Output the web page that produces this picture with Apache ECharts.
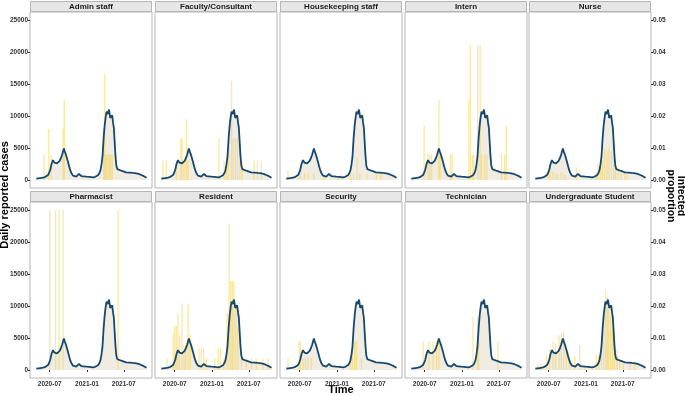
<!DOCTYPE html>
<html>
<head>
<meta charset="utf-8">
<script src="https://cdn.jsdelivr.net/npm/echarts@6/dist/echarts.min.js"></script>
<style>
html, body { margin: 0; padding: 0; background: #fff; }
#chart { width: 685px; height: 396px; }
</style>
</head>
<body>
<div id="chart"></div>
<script>
// 面板名称
const groups = ['Admin staff', 'Faculty/Consultant', 'Housekeeping staff', 'Intern', 'Nurse',
    'Pharmacist', 'Resident', 'Security', 'Technician', 'Undergraduate Student'];

// 每日报告病例（所有面板共用）
const caseDates = ['2020-04-26', '2020-05-06', '2020-05-16', '2020-05-29', '2020-06-10', '2020-06-23', '2020-06-28',
    '2020-07-04', '2020-07-10', '2020-07-17', '2020-07-21', '2020-07-25', '2020-08-01', '2020-08-06', '2020-08-12',
    '2020-08-19', '2020-08-25', '2020-08-31', '2020-09-05', '2020-09-09', '2020-09-13', '2020-09-18', '2020-09-23',
    '2020-09-29', '2020-10-05', '2020-10-11', '2020-10-17', '2020-10-24', '2020-11-01', '2020-11-09', '2020-11-16',
    '2020-11-22', '2020-11-28', '2020-12-04', '2020-12-14', '2020-12-29', '2021-01-12', '2021-01-31', '2021-02-10',
    '2021-02-16', '2021-02-24', '2021-03-03', '2021-03-08', '2021-03-13', '2021-03-18', '2021-03-24', '2021-03-29',
    '2021-04-03', '2021-04-07', '2021-04-10', '2021-04-13', '2021-04-16', '2021-04-19', '2021-04-22', '2021-04-25',
    '2021-04-29', '2021-05-02', '2021-05-05', '2021-05-09', '2021-05-13', '2021-05-17', '2021-05-21', '2021-05-25',
    '2021-05-30', '2021-06-08', '2021-06-19', '2021-06-27', '2021-07-12', '2021-07-30', '2021-08-15', '2021-09-01',
    '2021-09-12', '2021-09-25', '2021-10-08', '2021-10-21'];
const caseValues = [200, 250, 300, 360, 500, 780, 1100,
    1650, 2500, 3100, 2800, 2700, 2550, 2600, 2750,
    3000, 3400, 3900, 4500, 4900, 4500, 4050, 3500,
    2850, 2100, 1450, 1000, 680, 560, 520, 750,
    940, 780, 620, 580, 520, 480, 420, 500,
    620, 750, 1100, 1500, 2400, 3600, 6700, 8600,
    9900, 10700, 10900, 10300, 10600, 11000, 10400, 9700,
    10000, 9500, 10100, 9000, 8200, 6000, 3800, 2300,
    1700, 1500, 1450, 1300, 1200, 1150, 1100, 1050,
    950, 780, 600, 360];

// 各职业感染比例 [日期, 比例]
const propAdmin = [['2020-06-03', 0.008], ['2020-06-26', 0.016], ['2020-07-09', 0.008], ['2020-09-05', 0.016],
    ['2020-09-11', 0.025], ['2021-03-24', 0.016], ['2021-03-29', 0.033], ['2021-04-03', 0.008], ['2021-04-08', 0.008],
    ['2021-04-15', 0.008], ['2021-04-22', 0.008], ['2021-04-28', 0.008], ['2021-05-05', 0.008]];
const propFaculty = [['2020-05-04', 0.006], ['2020-05-21', 0.006], ['2020-07-09', 0.006], ['2020-07-31', 0.013],
    ['2020-08-06', 0.013], ['2020-08-16', 0.006], ['2020-08-28', 0.019], ['2020-09-05', 0.006], ['2021-02-04', 0.013],
    ['2021-03-01', 0.006], ['2021-03-13', 0.006], ['2021-03-24', 0.013], ['2021-04-07', 0.031], ['2021-04-15', 0.013],
    ['2021-04-26', 0.013], ['2021-05-06', 0.013], ['2021-05-18', 0.006], ['2021-05-29', 0.006], ['2021-07-27', 0.006],
    ['2021-08-13', 0.006], ['2021-09-01', 0.006]];
const propHousekeeping = [['2020-05-04', 0.003], ['2020-06-28', 0.002], ['2020-07-09', 0.003], ['2020-07-25', 0.002],
    ['2020-08-11', 0.002], ['2020-09-09', 0.002], ['2020-11-01', 0.0016], ['2021-01-06', 0.001], ['2021-01-22', 0.002],
    ['2021-03-08', 0.002], ['2021-03-24', 0.002], ['2021-04-10', 0.007], ['2021-04-23', 0.002], ['2021-05-29', 0.002],
    ['2021-07-14', 0.002], ['2021-08-04', 0.002]];
const propIntern = [['2020-06-28', 0.017], ['2020-07-17', 0.008], ['2020-07-26', 0.008], ['2020-08-04', 0.008],
    ['2020-09-09', 0.025], ['2020-09-16', 0.008], ['2020-11-05', 0.008], ['2020-11-13', 0.008], ['2021-02-04', 0.025],
    ['2021-02-11', 0.042], ['2021-02-21', 0.008], ['2021-02-28', 0.008], ['2021-03-19', 0.042], ['2021-03-31', 0.042],
    ['2021-04-07', 0.008], ['2021-04-23', 0.008], ['2021-05-04', 0.008], ['2021-07-14', 0.008], ['2021-07-30', 0.008],
    ['2021-08-07', 0.017]];
const propNurse = [['2020-06-28', 0.0023], ['2020-07-09', 0.003], ['2020-07-22', 0.0025], ['2020-08-04', 0.002],
    ['2020-08-16', 0.002], ['2020-09-01', 0.0025], ['2020-09-14', 0.002], ['2020-09-23', 0.0015], ['2020-11-14', 0.004],
    ['2021-02-21', 0.002], ['2021-03-01', 0.005], ['2021-03-13', 0.004], ['2021-03-23', 0.006], ['2021-04-03', 0.0099],
    ['2021-04-15', 0.009], ['2021-04-24', 0.0099], ['2021-05-06', 0.009], ['2021-05-18', 0.0068], ['2021-05-27', 0.0045],
    ['2021-06-08', 0.003], ['2021-06-24', 0.002], ['2021-07-11', 0.002], ['2021-07-22', 0.0015]];
const propPharmacist = [['2020-07-01', 0.05], ['2020-07-30', 0.05], ['2020-08-16', 0.05], ['2020-09-05', 0.05],
    ['2021-06-03', 0.05]];
const propResident = [['2020-05-24', 0.0036], ['2020-06-23', 0.0109], ['2020-07-01', 0.0137], ['2020-07-09', 0.0137],
    ['2020-07-17', 0.0177], ['2020-07-25', 0.0109], ['2020-08-06', 0.0208], ['2020-08-16', 0.0078], ['2020-08-24', 0.0078],
    ['2020-09-05', 0.0208], ['2020-09-16', 0.0109], ['2020-10-29', 0.0068], ['2020-11-09', 0.0068], ['2020-11-21', 0.0068],
    ['2020-12-04', 0.0036], ['2021-01-14', 0.0036], ['2021-01-31', 0.0068], ['2021-02-11', 0.0068], ['2021-02-28', 0.0036],
    ['2021-03-16', 0.0177], ['2021-03-26', 0.0458], ['2021-04-03', 0.0278], ['2021-04-11', 0.0278], ['2021-04-19', 0.0278],
    ['2021-04-28', 0.0208], ['2021-05-09', 0.0137], ['2021-05-26', 0.0036], ['2021-06-19', 0.0036], ['2021-07-14', 0.0036],
    ['2021-08-07', 0.0036], ['2021-09-09', 0.0036], ['2021-10-04', 0.0036]];
const propSecurity = [['2020-05-04', 0.0037], ['2020-06-28', 0.0089], ['2020-07-04', 0.0089], ['2020-07-17', 0.0034],
    ['2020-07-30', 0.0037], ['2020-08-11', 0.004], ['2020-08-28', 0.0037], ['2021-03-08', 0.0037], ['2021-03-18', 0.0089],
    ['2021-03-29', 0.0089], ['2021-04-07', 0.0089], ['2021-05-01', 0.0037]];
const propTechnician = [['2020-06-23', 0.0089], ['2020-07-22', 0.0089], ['2020-08-11', 0.0089], ['2020-08-28', 0.0089],
    ['2020-09-09', 0.0089], ['2021-02-24', 0.0167], ['2021-03-18', 0.0167], ['2021-03-24', 0.0089], ['2021-06-27', 0.0089]];
const propUndergrad = [['2020-05-09', 0.0019], ['2020-05-21', 0.0019], ['2020-06-20', 0.0047], ['2020-07-06', 0.0063],
    ['2020-07-22', 0.0088], ['2020-08-04', 0.0083], ['2020-08-21', 0.0109], ['2020-09-01', 0.0115], ['2020-09-13', 0.012],
    ['2020-09-26', 0.0063], ['2020-10-12', 0.0042], ['2020-11-06', 0.0042], ['2020-12-01', 0.0078], ['2020-12-25', 0.0015],
    ['2021-02-21', 0.0044], ['2021-03-06', 0.005], ['2021-03-18', 0.0104], ['2021-03-29', 0.0167], ['2021-04-08', 0.025],
    ['2021-04-15', 0.023], ['2021-04-21', 0.019], ['2021-05-01', 0.0167], ['2021-05-11', 0.0125], ['2021-05-21', 0.0094],
    ['2021-06-03', 0.0063], ['2021-06-16', 0.0036], ['2021-07-02', 0.002], ['2021-08-04', 0.002], ['2021-08-28', 0.002]];
const propAll = [propAdmin, propFaculty, propHousekeeping, propIntern, propNurse,
    propPharmacist, propResident, propSecurity, propTechnician, propUndergrad];

// 刻度
const timeTicks = ['2020-07-01', '2021-01-01', '2021-07-01'];
const caseTicks = [0, 5000, 10000, 15000, 20000, 25000];
const propTicks = [0, 0.01, 0.02, 0.03, 0.04, 0.05];

// 日期转时间戳（本地时间）
function t(s) {
    const p = s.split('-').map(Number);
    return new Date(p[0], p[1] - 1, p[2]).getTime();
}

// 布局
const panelLeft = [30, 155, 280, 405, 529];
const panelTop = [12, 202];
const panelW = 122;
const panelH = 176;
const stripH = 11;

const labelStyle = { fontSize: 6.5, fontWeight: 'bold', color: '#333', fontFamily: 'Liberation Sans, Arial, sans-serif' };
const titleFont = 'bold 11px "Liberation Sans", Arial, sans-serif';

const caseLine = caseDates.map((d, i) => [t(d), caseValues[i]]);

const grid = [], xAxis = [], yAxis = [], series = [], graphic = [];

groups.forEach((name, i) => {
    const row = Math.floor(i / 5);
    const col = i % 5;
    const left = panelLeft[col];
    const top = panelTop[row];

    grid.push({
        left: left, top: top, width: panelW, height: panelH,
        show: true, borderColor: '#B5B5B5', borderWidth: 1, backgroundColor: '#fff'
    });

    // 时间轴用数值轴（时间戳）
    xAxis.push({
        type: 'value', gridIndex: i,
        min: t('2020-03-26'), max: t('2021-11-17'),
        axisLine: { show: false },
        splitLine: { show: false },
        axisTick: { show: row === 1, length: 2, customValues: timeTicks.map(t), lineStyle: { color: '#333' } },
        axisLabel: Object.assign({
            show: row === 1, margin: 3, hideOverlap: false,
            customValues: timeTicks.map(t),
            formatter: function (v) {
                const d = new Date(v);
                return d.getFullYear() + '-' + String(d.getMonth() + 1).padStart(2, '0');
            }
        }, labelStyle)
    });

    // 左轴：病例数
    yAxis.push({
        type: 'value', gridIndex: i, position: 'left',
        min: -1250, max: 26250,
        axisLine: { show: false },
        splitLine: { show: false },
        axisTick: { show: col === 0, length: 2, customValues: caseTicks, lineStyle: { color: '#333' } },
        axisLabel: Object.assign({
            show: col === 0, margin: 2, customValues: caseTicks,
            formatter: v => String(v)
        }, labelStyle)
    });
    // 右轴：感染比例
    yAxis.push({
        type: 'value', gridIndex: i, position: 'right',
        min: -0.0025, max: 0.0525,
        axisLine: { show: false },
        splitLine: { show: false },
        axisTick: { show: col === 4, length: 2, customValues: propTicks, lineStyle: { color: '#333' } },
        axisLabel: Object.assign({
            show: col === 4, margin: 2, customValues: propTicks,
            formatter: v => v.toFixed(2)
        }, labelStyle)
    });

    // 面积
    series.push({
        type: 'line', xAxisIndex: i, yAxisIndex: 2 * i, data: caseLine,
        showSymbol: false, silent: true, z: 1,
        lineStyle: { width: 0 },
        areaStyle: { color: '#EEEADE', opacity: 0.9 }
    });
    // 比例柱
    series.push({
        type: 'bar', xAxisIndex: i, yAxisIndex: 2 * i + 1,
        data: propAll[i].map(d => [t(d[0]), d[1]]),
        barWidth: 1.3, silent: true, z: 2,
        itemStyle: { color: 'rgba(246, 212, 88, 0.55)' }
    });
    // 病例曲线
    series.push({
        type: 'line', xAxisIndex: i, yAxisIndex: 2 * i, data: caseLine,
        showSymbol: false, silent: true, z: 3,
        lineStyle: { width: 1.8, color: '#164870' }
    });

    // 分面标题条
    graphic.push({
        type: 'rect', silent: true, z: 10,
        shape: { x: left + 0.5, y: top - stripH + 0.5, width: panelW - 1, height: stripH - 1 },
        style: { fill: '#E6E6E6', stroke: '#B5B5B5', lineWidth: 1 }
    });
    graphic.push({
        type: 'text', silent: true, z: 11,
        x: left + panelW / 2, y: top - stripH / 2 + 0.5,
        style: {
            text: name, font: 'bold 8px "Liberation Sans", Arial, sans-serif',
            fill: '#1A1A1A', align: 'center', verticalAlign: 'middle'
        }
    });
});

// 轴标题
graphic.push({
    type: 'text', silent: true, x: 5, y: 195, rotation: Math.PI / 2,
    style: { text: 'Daily reported cases', font: titleFont, fill: '#000', align: 'center', verticalAlign: 'middle' }
});
graphic.push({
    type: 'text', silent: true, x: 341, y: 390,
    style: { text: 'Time', font: titleFont, fill: '#000', align: 'center', verticalAlign: 'middle' }
});
graphic.push({
    type: 'text', silent: true, x: 676, y: 196, rotation: -Math.PI / 2,
    style: { text: 'Infected\nproportion', font: 'bold 10.5px "Liberation Sans", Arial, sans-serif', fill: '#000', align: 'center', verticalAlign: 'middle', lineHeight: 10 }
});

const chart = echarts.init(document.getElementById('chart'));
chart.setOption({
    animation: false,
    backgroundColor: '#fff',
    grid: grid,
    xAxis: xAxis,
    yAxis: yAxis,
    series: series,
    graphic: graphic
});
</script>
</body>
</html>
